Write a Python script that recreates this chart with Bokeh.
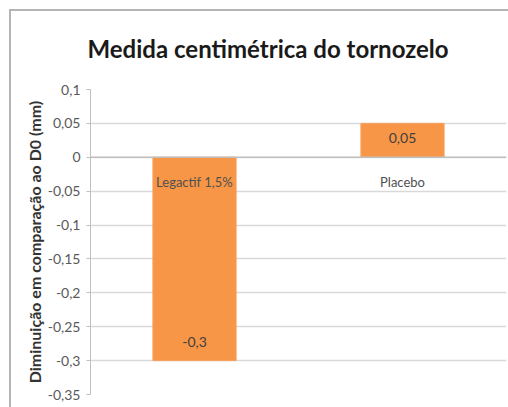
from bokeh.plotting import figure
from bokeh.models import ColumnDataSource, FactorRange, Range1d, FixedTicker, Span, Title, InlineStyleSheet
from bokeh.core.properties import value
from bokeh.embed import file_html
from bokeh.resources import INLINE

# ---- data ----
categories = ["Legactif 1,5%", "Placebo"]
values = [-0.3, 0.05]
value_labels = ["-0,3", "0,05"]
y_ticks = [-0.35, -0.3, -0.25, -0.2, -0.15, -0.1, -0.05, 0, 0.05, 0.1]
y_tick_labels = ["-0,35", "-0,3", "-0,25", "-0,2", "-0,15", "-0,1", "-0,05", "0", "0,05", "0,1"]
title_text = "Medida centimétrica do tornozelo"
y_title = "Diminuição em comparação ao D0 (mm)"

FONT = "Lato"
BAR = "#F79646"

border_css = InlineStyleSheet(css="""
:host::after {
  content: "";
  position: absolute;
  left: 9px; top: 9px; right: 0; bottom: 0;
  border-left: 2px solid #b4b4b4;
  border-top: 2px solid #b4b4b4;
  pointer-events: none;
  z-index: 100;
}
""")

p = figure(
    x_range=FactorRange(*categories, range_padding=0),
    y_range=Range1d(min(y_ticks), max(y_ticks)),
    width=508, height=407,
    output_backend="svg", toolbar_location=None,
    min_border_left=90, min_border_right=2, min_border_top=89, min_border_bottom=13,
    stylesheets=[border_css],
)
p.outline_line_color = None
p.background_fill_color = "white"
p.border_fill_color = "white"

t = Title(text=title_text, align="left", text_font=FONT, text_font_size="24px",
          text_font_style="bold", text_color="#1a1a1a", offset=-3, standoff=53)
p.add_layout(t, "above")

src = ColumnDataSource(dict(
    cat=categories, val=values, lab=value_labels,
    off=[-19 if v < 0 else 15 for v in values],
    zero=[0] * len(categories),
))

p.vbar(x="cat", top="val", bottom=0, width=0.4, source=src,
       fill_color=BAR, line_color="#F8A060", line_width=1)

# data labels (inside end)
p.text(x="cat", y="val", text="lab", source=src, y_offset="off",
       text_align="center", text_baseline="middle",
       text_font=value(FONT), text_font_size="14px", text_color="#404040")

# category labels next to the zero axis
p.text(x="cat", y="zero", text="cat", source=src, y_offset=25,
       text_align="center", text_baseline="middle",
       text_font=value(FONT), text_font_size="13px", text_color="#505050")

# zero axis line
p.add_layout(Span(location=0, dimension="width", line_color="#bfbfbf", line_width=1.5))

p.xaxis.visible = False
p.xgrid.grid_line_color = None
p.ygrid.grid_line_color = "#d9d9d9"
p.ygrid.grid_line_width = 1.5

ax = p.yaxis[0]
ax.ticker = FixedTicker(ticks=y_ticks)
ax.major_label_overrides = {t_: l_ for t_, l_ in zip(y_ticks, y_tick_labels)}
ax.minor_tick_line_color = None
ax.major_tick_in = 0
ax.major_tick_out = 4
ax.major_tick_line_color = "#bfbfbf"
ax.axis_line_color = "#bfbfbf"
ax.major_label_standoff = 6
ax.major_label_text_font = FONT
ax.major_label_text_font_size = "14px"
ax.major_label_text_color = "#595959"
ax.axis_label = y_title
ax.axis_label_text_font = FONT
ax.axis_label_text_font_size = "16px"
ax.axis_label_text_font_style = "bold"
ax.axis_label_text_color = "#333333"
ax.axis_label_standoff = 1

open("out.html", "w").write(file_html(p, INLINE))
